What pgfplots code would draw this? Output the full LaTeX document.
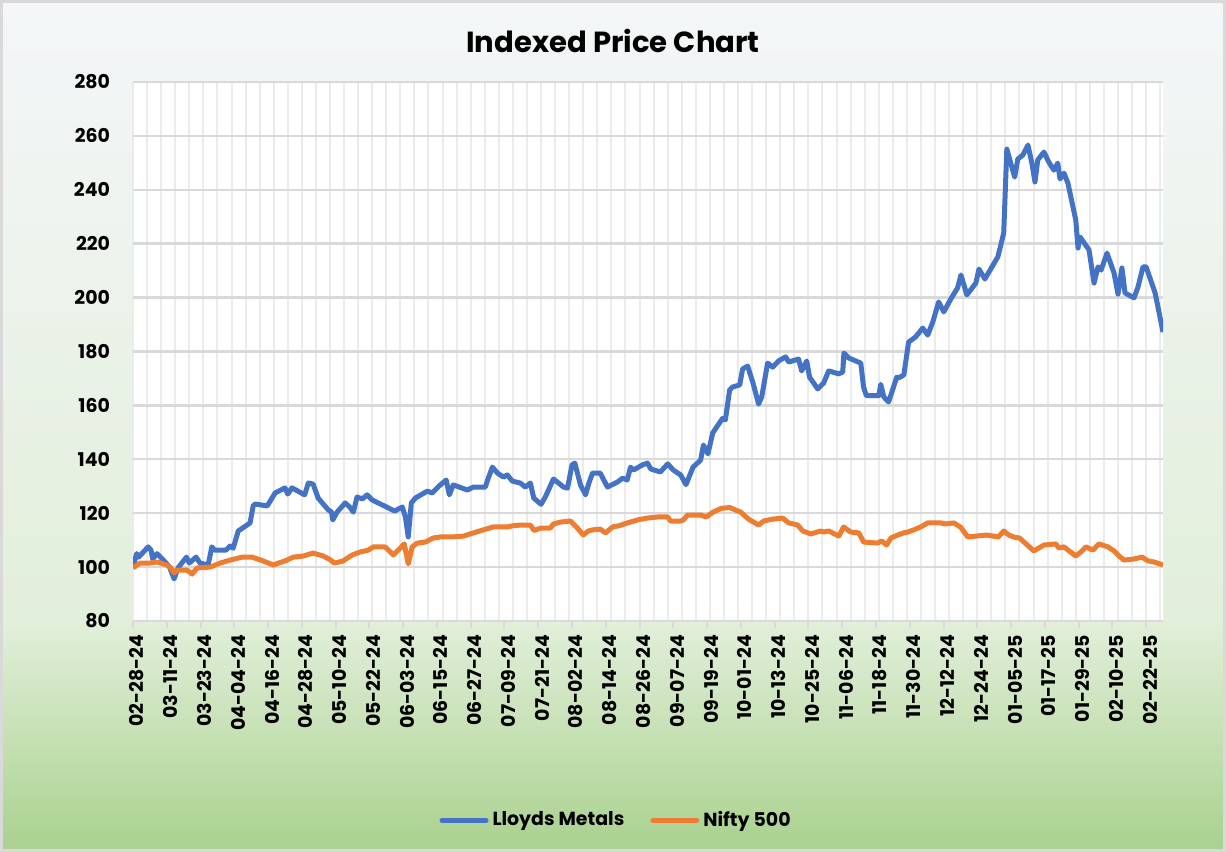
\documentclass[border=0pt]{standalone}
\usepackage{fontspec}
\setmainfont{Poppins}
\usepackage{pgfplots}
\pgfplotsset{compat=1.18}

\definecolor{lloyds}{HTML}{4472C4}
\definecolor{nifty}{HTML}{ED7D31}
\definecolor{hgrid}{HTML}{D9D9D9}
\definecolor{vgrid}{HTML}{EBEBEB}
\definecolor{bgtop}{HTML}{F4F6F9}
\definecolor{bgmid}{HTML}{E2EFDA}
\definecolor{bgbot}{HTML}{A9D18E}

% day 0 = 02-28-24, indexed to 100
\pgfplotstableread{
day value
0 100
1.3 105
2 103.7
5.4 107.5
6.4 106.3
7 103
8.5 105
10.8 102.6
13 100
14.6 95.6
16 99.7
19 103.7
20 101.5
22.4 103.7
23.8 101.5
26.7 100.8
28 107.5
29 106.3
33 106.3
34.5 107.8
35.6 107
37.4 113.4
40.5 115.6
41.6 116.4
42.7 122.7
43.4 123.4
47.7 122.7
50.5 127.5
54 129.4
55 127.1
56.5 129.4
61 126.8
62.3 131.2
64 130.8
65.8 125.6
69.4 121.2
70.5 120.5
71 117.5
72.5 120.4
75.4 123.8
77 122.3
78.3 120.4
79.6 126
81.5 125.3
83.2 126.8
85 124.9
93 120.8
95.7 122.3
96.8 118.6
97.8 111.2
98.9 123.8
100.3 125.6
104.6 128.2
106.3 127.5
109.2 130.5
111.3 132.3
112.4 126.8
113.8 130.5
118.8 128.6
121 129.7
125.2 129.7
126 132.3
127.7 137.1
129.5 134.9
131.6 133.4
133 134.2
134.8 131.9
137.6 131.2
139.4 129.7
141.2 131.2
142.4 125.6
145 123.3
146.5 126
149.4 132.7
151.2 131.2
153 129.7
154.4 129.3
156 137.9
157 138.6
159 130.5
160.8 126.8
162 131.2
163.3 134.9
166 134.9
168.6 129.7
172.2 131.6
174 133
175.6 132.3
176.8 137.1
177.8 136
181 137.9
182.8 138.6
184 136.4
187.4 135.3
190 138.3
192 136
194.6 134.2
196.5 130.6
199 137.1
201.7 139.7
202.7 145.3
204.3 142
206 149.8
209.5 155.2
210.5 154.6
212 165.7
213 166.8
215.6 167.6
216.6 173.5
218.4 174.6
220.2 168.7
222.3 160.5
223.4 163.1
225.5 175.7
227.3 174.2
229.4 176.5
231.9 178
233 176.1
236.5 177.2
237.6 172.8
239.4 176.5
240.4 170.5
243.3 166.1
245.4 168.3
247.2 172.8
250.8 171.7
252.2 172.4
252.6 179.4
254.3 177.6
258.6 175.7
259.6 166.8
260.6 163.6
265 163.6
265.7 167.8
266.8 163.1
268.5 161.3
271.4 170.5
272.1 170.2
273.9 171.3
275.6 183.5
278.1 185.4
280.6 188.7
282.4 186.1
284.2 191
286.3 198.4
288.1 194.7
290.6 199.5
293 203.6
294.2 208.4
296.3 201
299.5 205.4
300.6 210.6
302.7 206.9
307.3 215.1
308.2 218.8
309.4 224
310.5 255.1
311.9 249.9
313.3 244.7
314.4 251.4
316.2 252.9
318 256.6
319.4 249.9
320.5 242.9
321.5 251.1
323.7 254
325.4 250.3
327.2 247.3
328.6 249.9
329.4 244
330.8 246.2
332.2 242.5
335 228.8
335.8 218.4
336.5 222.5
339.7 217.7
341.5 205.4
342.9 211.4
344 210.2
346.1 216.5
348.6 209.1
350 201.3
351.4 211
352.5 201.7
355.7 199.9
357.1 203.9
358.9 211.4
360 211.4
363.2 201.7
366 187.2
}\lloydstable

\pgfplotstableread{
day value
0 99.7
2.5 101.5
6 101.5
8.5 101.9
12 100.8
13.5 99.7
14.6 97.8
15.6 98.9
19.2 98.9
21 97.4
22.8 99.7
27.4 100
31 101.5
34.5 102.6
38.8 103.7
42.3 103.7
46.2 102.3
49.8 100.8
54 102.3
57 103.7
60.5 104.1
64 105.2
67.6 104.1
70 102.8
71.5 101.5
74.5 102.2
77.9 104.5
80.7 105.6
83.6 106.3
85.4 107.5
89.6 107.5
92.5 104.5
95 107.1
96.4 108.6
97.8 101.2
99.2 107.5
101 108.9
103.9 109.3
106.7 110.8
109.2 111.2
113.5 111.2
117.4 111.5
121 112.7
124.5 113.8
128 114.9
133 114.9
134.8 115.3
137.6 115.6
141.2 115.6
142.5 113.6
145 114.5
148.3 114.5
149.4 116
151.9 116.7
155.4 117.1
157.9 114.5
160 111.9
161.8 113.4
163.3 113.8
166 114.1
167.9 112.7
170.4 114.9
172.5 115.3
175.7 116.4
179.3 117.5
182.8 118.2
186.4 118.6
190 118.6
191 117.1
194.6 117.1
195.6 117.5
197 119.3
201.7 119.3
203.7 118.6
206.1 120.4
209 121.8
212 122.1
215.9 120.4
218.7 117.8
222.3 115.6
224.1 117.1
227.3 117.8
230.8 118.2
233 116.4
236.2 115.6
238 113.4
240.8 112.3
244.4 113.4
245.4 113
247.2 113.4
250.8 111.5
252.5 114.9
255 113
257.9 112.7
259.6 109.3
264.6 108.9
266 109.7
267.8 108.2
269.3 110.8
271.7 111.9
273.9 112.7
275.3 113
277.4 113.8
279.9 114.9
282.4 116.4
287 116.4
288.8 116
291.7 116.4
294.2 114.7
296.6 111.2
303.4 111.9
307.5 111.2
309.4 113.4
311.2 111.9
313.5 111
315 110.8
320.1 106
323.7 108.2
327.9 108.6
329 107.1
330.8 107.5
335 104.1
336.8 105.6
338.6 107.5
341.1 106.3
343.2 108.6
346.4 107.5
348.6 106
350.4 104.1
352.1 102.6
355.7 103
358.5 103.7
360.7 102.3
362.8 101.9
366 100.8
}\niftytable

\begin{document}
\begin{tikzpicture}
\useasboundingbox (0,0) rectangle (613bp,426bp);
\fill[top color=bgtop, bottom color=bgmid] (0,115.5bp) rectangle (613bp,426bp);
\fill[top color=bgmid, bottom color=bgbot] (0,0) rectangle (613bp,115.5bp);
\draw[hgrid, line width=1.5bp] (0.75bp,0.75bp) rectangle (612.25bp,425.25bp);

\node[font=\fontsize{14.6}{17}\selectfont\bfseries] at (306.5bp,405.5bp) {Indexed Price Chart};

\begin{axis}[
  at={(66.5bp,115.5bp)}, anchor=south west,
  scale only axis,
  width=515bp, height=269.5bp,
  xmin=0, xmax=366,
  ymin=80, ymax=280,
  ytick={80,100,...,280},
  xtick={0,12,...,360},
  xticklabels={02-28-24,03-11-24,03-23-24,04-04-24,04-16-24,04-28-24,05-10-24,05-22-24,06-03-24,06-15-24,06-27-24,07-09-24,07-21-24,08-02-24,08-14-24,08-26-24,09-07-24,09-19-24,10-01-24,10-13-24,10-25-24,11-06-24,11-18-24,11-30-24,12-12-24,12-24-24,01-05-25,01-17-25,01-29-25,02-10-25,02-22-25},
  minor xtick={0,5,...,365},
  xminorgrids=true, xmajorgrids=false, ymajorgrids=true,
  minor grid style={vgrid, line width=1bp},
  major grid style={hgrid, line width=1.2bp},
  minor tick length=0pt,
  xtick pos=bottom, xtick align=outside,
  major tick length=3.5bp,
  major x tick style={hgrid, line width=1bp},
  ytick style={draw=none},
  separate axis lines,
  every outer x axis line/.append style={hgrid, line width=1.2bp},
  every outer y axis line/.append style={draw=none},
  axis background/.style={fill=white},
  /pgf/number format/assume math mode=true,
  ticklabel style={font=\fontsize{9.5}{11}\selectfont\bfseries},
  xticklabel style={rotate=90, anchor=east, yshift=-2bp},
  yticklabel style={xshift=-8bp},
  legend columns=2,
  legend style={at={(0.47,-0.37)}, anchor=center, draw=none, fill=none,
    font=\fontsize{9.5}{11}\selectfont\bfseries,
    nodes={inner sep=2bp},
    /tikz/every even column/.append style={column sep=11bp}},
  legend image code/.code={\draw[#1, line cap=round] (0bp,0bp) -- (22bp,0bp);},
  every axis plot/.append style={line width=2.5bp, line join=round, no markers},
]
\addplot[lloyds] table[x=day, y=value] {\lloydstable};
\addlegendentry{Lloyds Metals}
\addplot[nifty] table[x=day, y=value] {\niftytable};
\addlegendentry{Nifty 500}
\end{axis}
\end{tikzpicture}
\end{document}
